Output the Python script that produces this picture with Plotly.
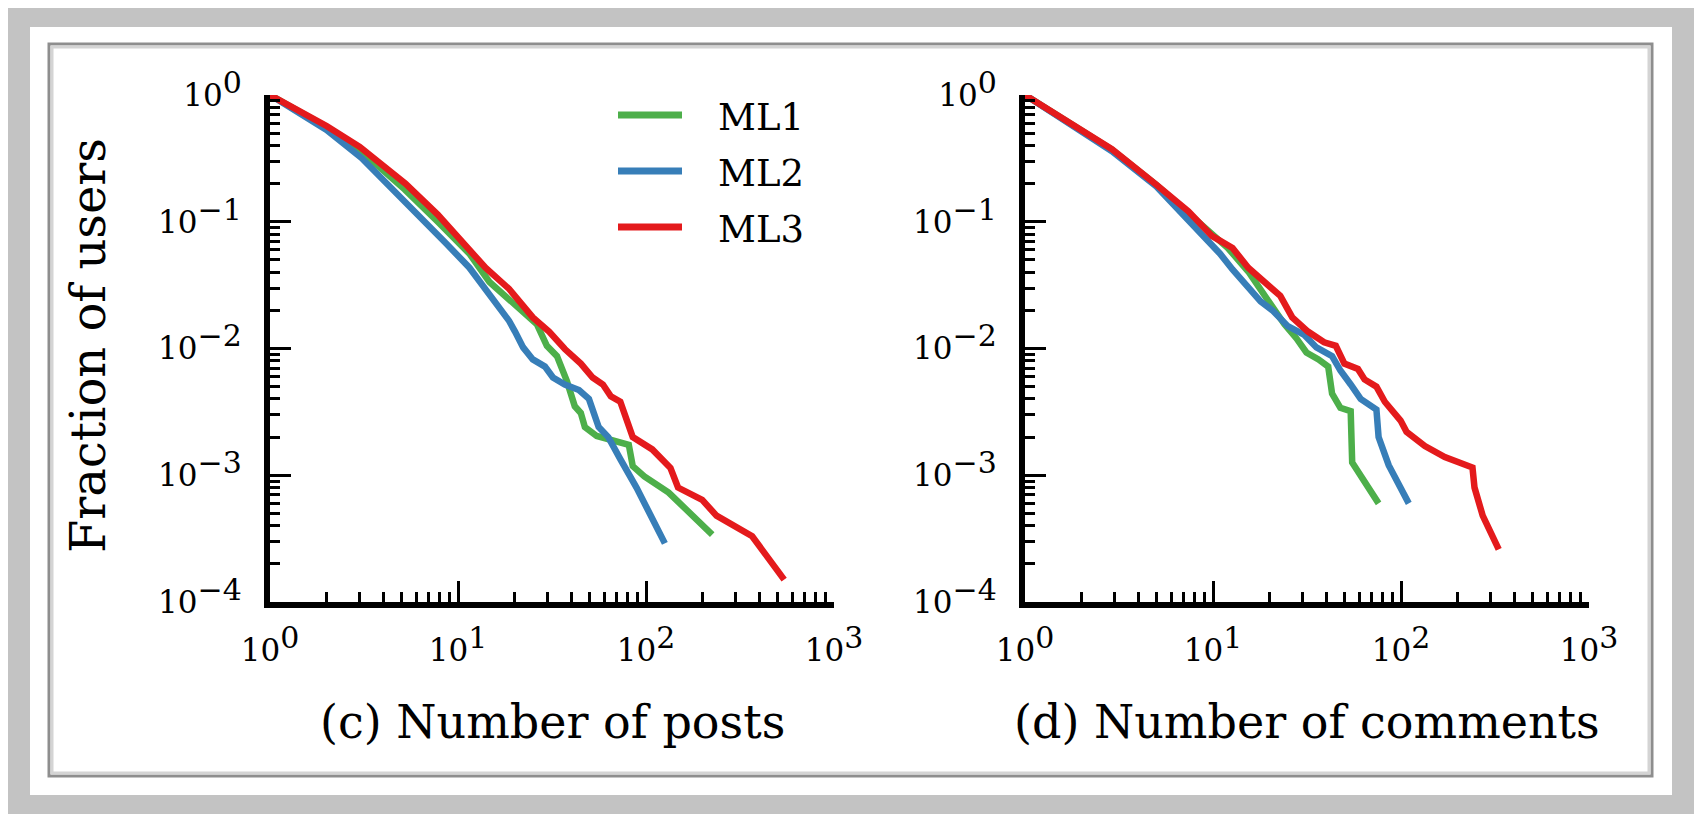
import plotly.graph_objects as go

W, H = 1694, 814

series_names = ["ML1", "ML2", "ML3"]
series_colors = ["#4daf4a", "#377eb8", "#e41a1c"]

# (c) Number of posts
posts_ml1_x = [1, 2, 3, 5.2, 7.8, 11.5, 14.7, 17.8, 22.7, 26.3, 29.7, 33.6, 38, 41.8, 45, 47.3, 54.7, 66.6, 81, 85, 98, 132, 160, 225]
posts_ml1_y = [1, 0.56, 0.37, 0.18, 0.1, 0.056, 0.0335, 0.0259, 0.0188, 0.0155, 0.0105, 0.0087, 0.0055, 0.0035, 0.0031, 0.0024, 0.00204, 0.0019, 0.00174, 0.00118, 0.00098, 0.00073, 0.00055, 0.00034]
posts_ml2_x = [1, 2, 3.07, 4.77, 6.1, 8.6, 11.5, 14, 16.2, 18.7, 20.1, 22.2, 25, 29, 32, 37, 44, 49.7, 56, 63, 73, 89, 126]
posts_ml2_y = [1, 0.53, 0.318, 0.167, 0.114, 0.068, 0.0434, 0.0295, 0.0214, 0.0165, 0.0136, 0.0102, 0.0082, 0.0072, 0.0059, 0.0052, 0.0047, 0.004, 0.0024, 0.002, 0.00134, 0.0008, 0.00029]
posts_ml3_x = [1, 2, 3, 5.26, 7.8, 10.4, 14, 18.7, 25, 30.5, 37, 45, 52, 59, 65, 73, 85, 108, 120, 135, 148, 199, 237, 367, 543]
posts_ml3_y = [1, 0.57, 0.39, 0.2, 0.114, 0.072, 0.0434, 0.0295, 0.0176, 0.0136, 0.0099, 0.0076, 0.0059, 0.0052, 0.0042, 0.0038, 0.002, 0.0016, 0.00134, 0.00114, 0.0008, 0.00064, 0.00048, 0.00033, 0.00015]

# (d) Number of comments
comments_ml1_x = [1, 1.87, 2.9, 5, 9, 12, 15.4, 18.7, 24, 27.8, 31.4, 36.4, 41, 43, 47.6, 54, 55, 76]
comments_ml1_y = [1, 0.56, 0.37, 0.195, 0.088, 0.062, 0.0405, 0.026, 0.0155, 0.012, 0.0093, 0.0082, 0.0072, 0.0044, 0.0034, 0.0032, 0.00126, 0.0006]
comments_ml2_x = [1, 1.87, 2.9, 5, 8.55, 10.9, 12.7, 15.4, 17.9, 20.7, 25, 30.6, 35.5, 43, 47.6, 54, 61, 74, 76, 86, 110]
comments_ml2_y = [1, 0.55, 0.36, 0.19, 0.082, 0.056, 0.042, 0.0304, 0.0235, 0.02, 0.015, 0.0128, 0.0102, 0.0087, 0.0067, 0.0052, 0.004, 0.0033, 0.002, 0.0012, 0.0006]
comments_ml3_x = [1, 1.87, 2.9, 5, 7.4, 9.9, 12.7, 15.4, 18.7, 22.8, 26.4, 32, 39, 45, 50, 59, 64, 74, 82, 90, 99.5, 107, 134, 171, 240, 246, 272, 331]
comments_ml3_y = [1, 0.57, 0.374, 0.196, 0.121, 0.077, 0.062, 0.0434, 0.0335, 0.026, 0.0176, 0.0136, 0.0112, 0.0105, 0.0076, 0.0069, 0.0057, 0.005, 0.0038, 0.0032, 0.0027, 0.0022, 0.0017, 0.00139, 0.00115, 0.0008, 0.00048, 0.00026]

x_tick_vals = [1, 10, 100, 1000]
x_tick_exps = ["0", "1", "2", "3"]
y_tick_vals = [1, 0.1, 0.01, 0.001, 0.0001]
y_tick_exps = ["0", "−1", "−2", "−3", "−4"]

x_titles = ["(c) Number of posts", "(d) Number of comments"]
y_title = "Fraction of users"

FONT = "DejaVu Serif"


def pow_label(e):
    return "10<sup><span style='font-size:30px'>" + e + "</span></sup>"


def px(x, y):
    return x / W, 1 - y / H


fig = go.Figure()

panels = [
    ([posts_ml1_x, posts_ml2_x, posts_ml3_x], [posts_ml1_y, posts_ml2_y, posts_ml3_y], "x", "y"),
    ([comments_ml1_x, comments_ml2_x, comments_ml3_x], [comments_ml1_y, comments_ml2_y, comments_ml3_y], "x2", "y2"),
]
for xs, ys, xa, ya in panels:
    for name, color, xv, yv in zip(series_names, series_colors, xs, ys):
        fig.add_trace(go.Scatter(x=xv, y=yv, mode="lines", name=name,
                                 line=dict(color=color, width=6.5),
                                 xaxis=xa, yaxis=ya, showlegend=False))

x_minor = [k * 10 ** d for d in range(0, 3) for k in range(2, 10)]
y_minor = [k * 10.0 ** d for d in range(-4, 0) for k in range(2, 10)]

axis_common = dict(
    type="log", showgrid=False, zeroline=False, showline=True,
    linecolor="black", linewidth=6, ticks="inside", ticklen=21,
    tickwidth=3, tickcolor="black", mirror=False, automargin=False,
    tickfont=dict(family=FONT, size=31, color="black"),
)

y_dom = [1 - 602 / H, 1 - 95 / H]
x_dom1 = [270 / W, 834 / W]
x_dom2 = [1025 / W, 1589 / W]

xa_kw = dict(axis_common, range=[0, 3], tickmode="array", tickvals=x_tick_vals,
             ticktext=[pow_label(e) for e in x_tick_exps], ticklabelstandoff=16,
             minor=dict(tickmode="array", tickvals=x_minor, ticks="inside",
                        ticklen=10, tickwidth=2.5, tickcolor="black", showgrid=False))
ya_kw = dict(axis_common, range=[-4, 0], tickmode="array", tickvals=y_tick_vals,
             ticktext=[pow_label(e) for e in y_tick_exps], ticklabelstandoff=16,
             minor=dict(tickmode="array", tickvals=y_minor, ticks="inside",
                        ticklen=10, tickwidth=2.5, tickcolor="black", showgrid=False))

fig.update_layout(
    width=W, height=H,
    margin=dict(l=0, r=0, t=0, b=0, pad=0, autoexpand=False),
    paper_bgcolor="white", plot_bgcolor="rgba(0,0,0,0)",
    showlegend=False,
    xaxis=dict(xa_kw, domain=x_dom1, anchor="y"),
    yaxis=dict(ya_kw, domain=y_dom, anchor="x"),
    xaxis2=dict(xa_kw, domain=x_dom2, anchor="y2"),
    yaxis2=dict(ya_kw, domain=y_dom, anchor="x2"),
)

shapes = []
# outer grey frame
x0, y0 = px(8, 8); x1, y1 = px(W, H)
shapes.append(dict(type="rect", xref="paper", yref="paper", x0=x0, y0=y1, x1=x1, y1=y0,
                   fillcolor="#c3c3c3", line=dict(width=0), layer="below"))
x0, y0 = px(30, 27); x1, y1 = px(1672, 795)
shapes.append(dict(type="rect", xref="paper", yref="paper", x0=x0, y0=y1, x1=x1, y1=y0,
                   fillcolor="white", line=dict(width=0), layer="below"))
# inner frame with soft shadow
x0, y0 = px(49, 44); x1, y1 = px(1652, 776)
shapes.append(dict(type="rect", xref="paper", yref="paper", x0=x0, y0=y1, x1=x1, y1=y0,
                   fillcolor="rgba(0,0,0,0)", line=dict(color="#8e8e8e", width=3), layer="below"))
x0, y0 = px(52, 47); x1, y1 = px(1649, 773)
shapes.append(dict(type="rect", xref="paper", yref="paper", x0=x0, y0=y1, x1=x1, y1=y0,
                   fillcolor="rgba(0,0,0,0)", line=dict(color="#d4d4d4", width=3), layer="below"))

annotations = []
# legend (manual, from series names/colors)
leg_y = [115, 171, 227]
for name, color, ly in zip(series_names, series_colors, leg_y):
    lx0, lyy = px(618, ly); lx1, _ = px(682, ly)
    shapes.append(dict(type="line", xref="paper", yref="paper", x0=lx0, x1=lx1, y0=lyy, y1=lyy,
                       line=dict(color=color, width=7)))
    tx, ty = px(716, ly + 2)
    annotations.append(dict(text=name, xref="paper", yref="paper", x=tx, y=ty,
                            xanchor="left", yanchor="middle", showarrow=False,
                            font=dict(family=FONT, size=37, color="black")))

for title, cx in zip(x_titles, [552, 1307]):
    ax, ay = px(cx, 722)
    annotations.append(dict(text=title, xref="paper", yref="paper", x=ax, y=ay,
                            xanchor="center", yanchor="middle", showarrow=False,
                            font=dict(family=FONT, size=46, color="black")))

ax, ay = px(88, 346)
annotations.append(dict(text=y_title, xref="paper", yref="paper", x=ax, y=ay, textangle=-90,
                        xanchor="center", yanchor="middle", showarrow=False,
                        font=dict(family=FONT, size=48, color="black")))

fig.update_layout(shapes=shapes, annotations=annotations)

fig.write_html("out.html", config={"displayModeBar": False},
               post_script="document.body.style.margin='0';document.body.style.overflow='hidden';")
